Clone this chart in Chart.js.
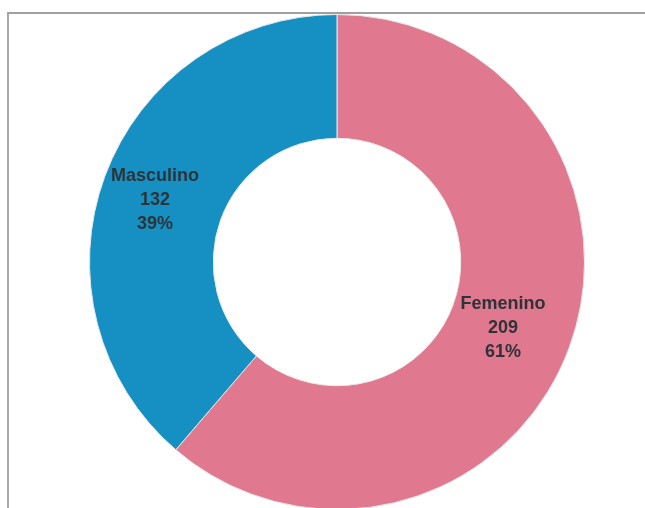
<!DOCTYPE html>
<html>
<head>
<meta charset="utf-8">
<script src="https://cdn.jsdelivr.net/npm/chart.js@4"></script>
<style>
    html, body { margin: 0; padding: 0; background: #fff; }
    body { width: 645px; height: 508px; position: relative; overflow: hidden; }
    #marco { position: absolute; left: 7px; top: 12px; width: 700px; height: 600px; border-left: 2px solid #a8a8a8; border-top: 2px solid #a0a0a0; }
    #caja { position: absolute; left: 89px; top: 14px; width: 496px; height: 496px; }
</style>
</head>
<body>
<div id="marco"></div>
<div id="caja"><canvas id="graficoSexo"></canvas></div>
<script>
// ========== DADOS ==========
const categorias = ['Femenino', 'Masculino'];
const valores = [209, 132];
const porcentagens = ['61%', '39%'];
const cores = ['#e0788f', '#1690c2'];

// ========== RÓTULOS DENTRO DAS FATIAS ==========
const rotulosPlugin = {
    id: 'rotulos',
    afterDatasetsDraw(chart) {
        const ctx = chart.ctx;
        const meta = chart.getDatasetMeta(0);
        ctx.save();
        ctx.font = 'bold 18px "Liberation Sans", Arial, sans-serif';
        ctx.textAlign = 'center';
        ctx.textBaseline = 'middle';
        ctx.fillStyle = '#2e3338';
        meta.data.forEach((arco, i) => {
            const p = arco.tooltipPosition();
            const x = p.x - 8;
            const y = p.y + 2;
            ctx.fillText(categorias[i], x, y - 24);
            ctx.fillText(String(valores[i]), x, y);
            ctx.fillText(porcentagens[i], x, y + 24);
        });
        ctx.restore();
    }
};

new Chart(document.getElementById('graficoSexo'), {
    type: 'doughnut',
    data: {
        labels: categorias,
        datasets: [{
            data: valores,
            backgroundColor: cores,
            borderColor: '#e8e8e8',
            borderWidth: 1
        }]
    },
    options: {
        responsive: true,
        maintainAspectRatio: false,
        animation: false,
        cutout: '50%',
        layout: { padding: 0 },
        plugins: {
            legend: { display: false },
            tooltip: { enabled: false }
        }
    },
    plugins: [rotulosPlugin]
});
</script>
</body>
</html>
